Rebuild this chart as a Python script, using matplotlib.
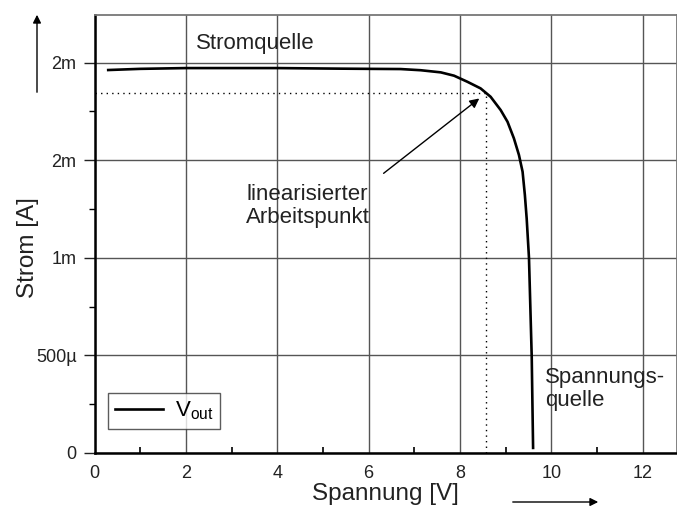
import numpy as np
import matplotlib
matplotlib.use("Agg")
import matplotlib.pyplot as plt

plt.rcParams["font.family"] = ["Liberation Sans", "DejaVu Sans"]

# I/U curve (V, A)
spannung = [0.3, 1.0, 2.0, 4.0, 5.4, 6.0, 6.7, 7.14, 7.58, 7.87, 8.16, 8.45, 8.67, 8.89, 9.04,
            9.18, 9.29, 9.37, 9.42, 9.46, 9.51, 9.57, 9.60]
strom = [1.962e-3, 1.968e-3, 1.972e-3, 1.972e-3, 1.969e-3, 1.968e-3, 1.967e-3, 1.961e-3, 1.950e-3,
         1.933e-3, 1.902e-3, 1.868e-3, 1.825e-3, 1.757e-3, 1.697e-3, 1.612e-3, 1.527e-3, 1.441e-3,
         1.322e-3, 1.20e-3, 1.0e-3, 0.493e-3, 0.026e-3]

ap_u = 8.58
ap_i = 1.843e-3

y_ticks = [0, 0.5e-3, 1.0e-3, 1.5e-3, 2.0e-3]
y_labels = ["0", "500µ", "1m", "2m", "2m"]
x_ticks = [0, 2, 4, 6, 8, 10, 12]

fig = plt.figure(figsize=(6.77, 5.08), dpi=100)
ax = fig.add_axes([0.1396, 0.1083, 0.8604, 0.8622])

ax.plot(spannung, strom, color="black", lw=1.9, label="V$_{\\mathregular{out}}$", zorder=3)
ax.plot([0, ap_u], [ap_i, ap_i], color="black", lw=1, ls=(0, (1, 3)), zorder=2)
ax.plot([ap_u, ap_u], [0, ap_i], color="black", lw=1, ls=(0, (1, 3)), zorder=2)

ax.set_xlim(0, 12.75)
ax.set_ylim(0, 2.244e-3)
ax.set_xticks(x_ticks)
ax.set_xticks(np.arange(1, 13, 2), minor=True)
ax.set_yticks(y_ticks)
ax.set_yticklabels(y_labels)
ax.set_yticks([0.25e-3, 0.75e-3, 1.25e-3, 1.75e-3], minor=True)
ax.grid(True, which="major", color="#555555", lw=1)
ax.tick_params(axis="x", which="major", direction="in", length=0, labelsize=13, pad=9, colors="#222222")
ax.tick_params(axis="x", which="minor", direction="in", length=4, width=1.2)
ax.tick_params(axis="y", which="major", direction="out", length=8, width=1, labelsize=13, pad=5,
               colors="#222222")
ax.tick_params(axis="y", which="minor", direction="out", length=4, width=1)
for s in ["top", "right"]:
    ax.spines[s].set_color("#777777")
    ax.spines[s].set_linewidth(1.3)
ax.spines["bottom"].set_linewidth(1.8)
ax.spines["left"].set_linewidth(1.8)

ax.set_xlabel("Spannung [V]", fontsize=17.5, color="#222222", va="center")
ax.set_ylabel("Strom [A]", fontsize=17.5, color="#222222", va="center")
ax.xaxis.set_label_coords(0.4996, -0.0936)
ax.yaxis.set_label_coords(-0.114, 0.468)

ax.text(3.52, 2.1e-3, "Stromquelle", fontsize=16, ha="center", va="center", color="#222222")
ax.text(4.66, 1.265e-3, "linearisierter\nArbeitspunkt", fontsize=16, ha="center", va="center",
        color="#222222", linespacing=1.15)
ax.text(9.86, 0.328e-3, "Spannungs-\nquelle", fontsize=16, ha="left", va="center",
        color="#222222", linespacing=1.15)
ax.annotate("", xy=(8.47, 1.825e-3), xytext=(6.28, 1.424e-3),
            arrowprops=dict(arrowstyle="-|>", color="black", lw=1, mutation_scale=14))

leg = ax.legend(loc="lower left", bbox_to_anchor=(0.023, 0.055), fontsize=16, frameon=True,
                fancybox=False, edgecolor="#333333", handlelength=2.2, handletextpad=0.5,
                borderpad=0.3, borderaxespad=0)
leg.get_frame().set_linewidth(1)

# direction arrows outside the axes
fig.add_artist(matplotlib.patches.FancyArrowPatch((37 / 677, 1 - 95 / 508), (37 / 677, 1 - 12 / 508),
               transform=fig.transFigure, arrowstyle="-|>", mutation_scale=12, color="black", lw=1))
fig.add_artist(matplotlib.patches.FancyArrowPatch((510 / 677, 1 - 502 / 508), (601 / 677, 1 - 502 / 508),
               transform=fig.transFigure, arrowstyle="-|>", mutation_scale=12, color="black", lw=1))

fig.savefig("out.png", dpi=100)
